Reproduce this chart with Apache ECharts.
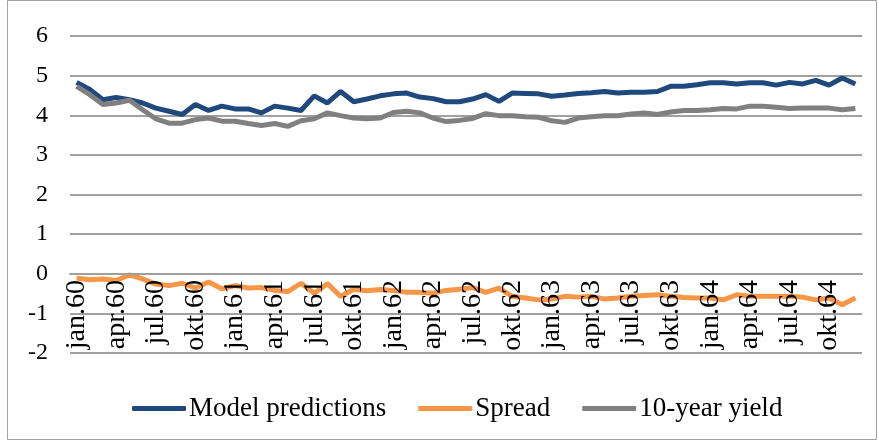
<!DOCTYPE html>
<html>
<head>
<meta charset="utf-8">
<script src="https://cdn.jsdelivr.net/npm/echarts@6/dist/echarts.min.js"></script>
<style>
  html, body { margin: 0; padding: 0; background: #fff; }
  #main { width: 879px; height: 441px; }
</style>
</head>
<body>
<div id="main"></div>
<script>
// months jan.60 .. des.64
const monthNames = ['jan', 'feb', 'mar', 'apr', 'mai', 'jun', 'jul', 'aug', 'sep', 'okt', 'nov', 'des']
const years = ['60', '61', '62', '63', '64']
const categories = []
years.forEach(y => monthNames.forEach(m => categories.push(m + '.' + y)))

const modelPredictions = [
  4.83, 4.65, 4.39, 4.45, 4.39, 4.31, 4.18, 4.10, 4.02, 4.27,
  4.12, 4.23, 4.16, 4.16, 4.06, 4.23, 4.18, 4.12, 4.49, 4.31,
  4.60, 4.34, 4.41, 4.49, 4.54, 4.56, 4.46, 4.42, 4.34, 4.34,
  4.41, 4.52, 4.35, 4.56, 4.55, 4.54, 4.48, 4.51, 4.55, 4.57,
  4.60, 4.56, 4.58, 4.58, 4.60, 4.73, 4.73, 4.77, 4.82, 4.82,
  4.79, 4.82, 4.82, 4.76, 4.83, 4.79, 4.88, 4.76, 4.94, 4.79
]
const spread = [
  -0.11, -0.15, -0.13, -0.17, -0.03, -0.13, -0.26, -0.30, -0.24, -0.36,
  -0.21, -0.38, -0.30, -0.36, -0.35, -0.42, -0.45, -0.24, -0.49, -0.25,
  -0.57, -0.39, -0.43, -0.40, -0.42, -0.47, -0.47, -0.49, -0.42, -0.39,
  -0.35, -0.47, -0.36, -0.57, -0.61, -0.66, -0.64, -0.57, -0.59, -0.57,
  -0.64, -0.61, -0.57, -0.55, -0.53, -0.57, -0.60, -0.61, -0.61, -0.66,
  -0.53, -0.57, -0.57, -0.57, -0.57, -0.59, -0.66, -0.61, -0.78, -0.61
]
const tenYearYield = [
  4.73, 4.52, 4.27, 4.31, 4.38, 4.14, 3.91, 3.80, 3.80, 3.89,
  3.93, 3.85, 3.85, 3.79, 3.74, 3.79, 3.72, 3.86, 3.91, 4.06,
  3.99, 3.93, 3.91, 3.93, 4.07, 4.10, 4.06, 3.93, 3.84, 3.87,
  3.92, 4.04, 3.99, 3.99, 3.96, 3.95, 3.86, 3.82, 3.93, 3.96,
  3.99, 3.99, 4.03, 4.06, 4.02, 4.08, 4.12, 4.12, 4.14, 4.17,
  4.16, 4.23, 4.23, 4.20, 4.17, 4.18, 4.18, 4.18, 4.14, 4.17
]

const font = 'Liberation Serif'
const gridColor = '#a0a0a0'

const chart = echarts.init(document.getElementById('main'))
chart.setOption({
  animation: false,
  textStyle: { fontFamily: font, color: '#000' },
  graphic: [{
    type: 'rect',
    shape: { x: 7.5, y: 0.5, width: 869, height: 439 },
    style: { fill: 'none', stroke: '#a0a0a0', lineWidth: 1 },
    silent: true
  }],
  grid: { left: 70, right: 17, top: 36, bottom: 88 },
  legend: {
    top: 390,
    left: 127,
    icon: 'roundRect',
    itemWidth: 54,
    itemHeight: 5,
    itemGap: 32,
    textStyle: { fontFamily: font, fontSize: 27, color: '#000', padding: [0, 0, 0, -2] },
    data: ['Model predictions', 'Spread', '10-year yield']
  },
  xAxis: {
    type: 'category',
    data: categories,
    boundaryGap: true,
    offset: -79,   // axis sits on the 0 line, as in the original
    z: 5,
    axisLine: { onZero: false, lineStyle: { color: gridColor, width: 2 } },
    axisTick: { show: false },
    axisLabel: {
      interval: 2,
      rotate: 90,
      margin: 6,
      fontFamily: font,
      fontSize: 28,
      color: '#000'
    }
  },
  yAxis: {
    type: 'value',
    min: -2,
    max: 6,
    interval: 1,
    axisLine: { show: false },
    axisTick: { show: false },
    axisLabel: { fontFamily: font, fontSize: 24, color: '#000', margin: 22 },
    splitLine: { lineStyle: { color: gridColor, width: 2 } }
  },
  series: [
    {
      name: 'Model predictions', type: 'line', data: modelPredictions,
      symbol: 'none', itemStyle: { color: '#1f497d' },
      lineStyle: { color: '#1f497d', width: 5 }
    },
    {
      name: 'Spread', type: 'line', data: spread,
      symbol: 'none', itemStyle: { color: '#f79646' },
      lineStyle: { color: '#f79646', width: 5 }
    },
    {
      name: '10-year yield', type: 'line', data: tenYearYield,
      symbol: 'none', itemStyle: { color: '#808080' },
      lineStyle: { color: '#808080', width: 5 }
    }
  ]
})
</script>
</body>
</html>
